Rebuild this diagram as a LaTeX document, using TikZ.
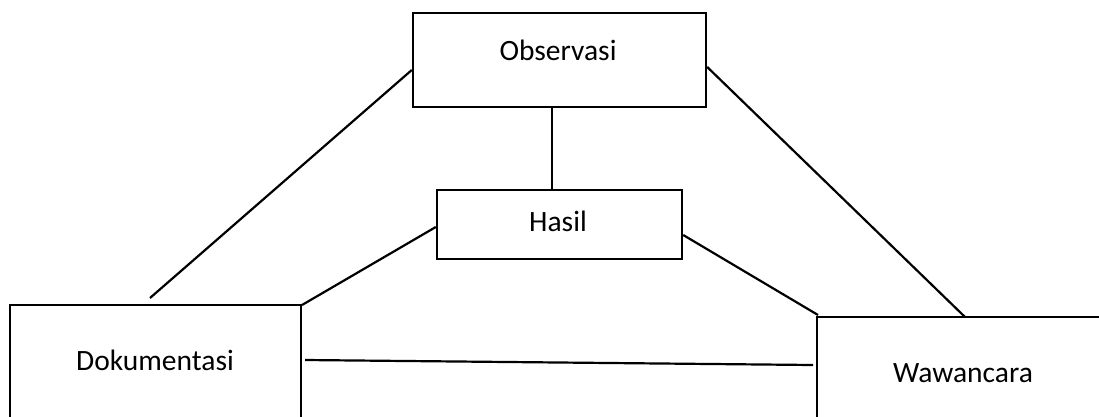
\documentclass[tikz,border=0pt]{standalone}
\usepackage{fontspec}
\setmainfont{Carlito}
\begin{document}
\begin{tikzpicture}[x=1pt,y=-1pt,
  box/.style={draw,line width=2.4pt,inner sep=0pt,minimum width=#1},
  lbl/.style={font=\fontsize{29.5}{34}\selectfont,inner sep=0pt},
  con/.style={line width=2.2pt}]
\useasboundingbox (0,0) rectangle (1099,416);
\clip (0,0) rectangle (1099,416);
\fill[white] (0,0) rectangle (1099,416);
\node[box=293pt,minimum height=94pt] (obs) at (559.5,60) {};
\node[box=245pt,minimum height=69pt] (has) at (559.5,224.5) {};
\node[box=291pt,minimum height=125pt] (dok) at (155.5,367.5) {};
\node[box=293pt,minimum height=113pt] (waw) at (963.5,373.5) {};
\node[lbl] (tobs) at (558,50) {Observasi};
\node[lbl] (thas) at (558,221) {Hasil};
\node[lbl] (tdok) at (155,360) {Dokumentasi};
\node[lbl] (twaw) at (963,373) {Wawancara};
\coordinate (d1) at (150,298);
\coordinate (w1) at (965,317);
\coordinate (d2) at (302,305);
\coordinate (w2) at (818,315);
\coordinate (d3) at (305,360);
\coordinate (w3) at (813,365);
\draw[con] ([yshift=-10pt]obs.west) -- (d1);
\draw[con] ([yshift=-7pt]obs.east) -- (w1);
\draw[con] ([xshift=-7.5pt]obs.south) -- ([xshift=-7.5pt]has.north);
\draw[con] ([yshift=-2.5pt]has.west) -- (d2);
\draw[con] ([yshift=-10.5pt]has.east) -- (w2);
\draw[con] (d3) -- (w3);
\end{tikzpicture}
\end{document}
